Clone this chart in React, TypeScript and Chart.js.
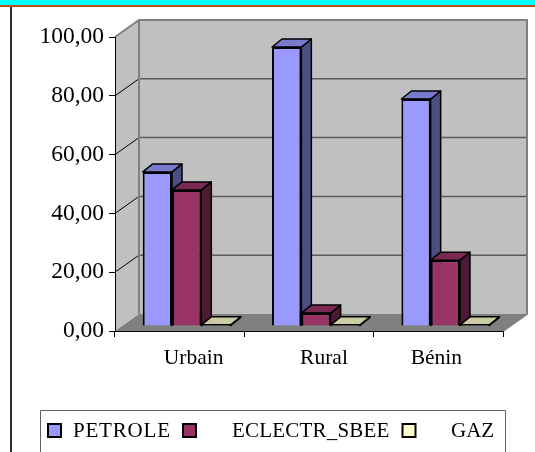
import React, { useEffect, useRef } from "react";
import { Chart, registerables } from "chart.js";

Chart.register(...registerables);

const categories = ["Urbain", "Rural", "Bénin"];
const petrole = [52.4, 94.9, 77.2];
const electr = [46.3, 4.4, 22.4];
const gaz = [0.4, 0.4, 0.4];
const seriesNames = ["PETROLE", "ECLECTR_SBEE", "GAZ"];
const frontColors = ["#9999FF", "#993366", "#FFFFCC"];
const topColors = ["#7A7ACC", "#7A2952", "#CCCCA3"];
const sideColors = ["#4D4D80", "#4D1A33", "#80806A"];
const labelOffsets = [14, 15, -2];
const legendSwatchX = [48, 183, 402.5];
const legendTextX = [73, 232, 451];
const legendSpacing = ["0.8px", "0.2px", "0px"];

const FONT = '"Liberation Serif", "Times New Roman", serif';
const WALL = { dx: 24, dy: -17 };
const BAR = { x: 7, y: -5, dx: 10, dy: -8 };

function poly(ctx: CanvasRenderingContext2D, pts: number[][], fill: string | null, stroke: string | null, lw = 1) {
  ctx.beginPath();
  pts.forEach((p, i) => (i ? ctx.lineTo(p[0], p[1]) : ctx.moveTo(p[0], p[1])));
  ctx.closePath();
  if (fill) {
    ctx.fillStyle = fill;
    ctx.fill();
  }
  if (stroke) {
    ctx.strokeStyle = stroke;
    ctx.lineWidth = lw;
    ctx.stroke();
  }
}

const scenePlugin = {
  id: "scene",
  beforeDraw(chart: any) {
    const ctx = chart.ctx as CanvasRenderingContext2D;
    ctx.save();
    ctx.fillStyle = "#FFFFFF";
    ctx.fillRect(0, 0, 535, 452);
    ctx.fillStyle = "#00FFFF";
    ctx.fillRect(0, 0, 535, 5);
    ctx.fillStyle = "#C04A14";
    ctx.fillRect(0, 5, 535, 2);
    ctx.fillStyle = "#303030";
    ctx.fillRect(10, 7, 2, 445);

    const { left, right, top, bottom } = chart.chartArea;
    const { dx, dy } = WALL;
    poly(ctx, [[left + dx, top + dy], [right + dx, top + dy], [right + dx, bottom + dy], [left + dx, bottom + dy]], "#C0C0C0", null);
    poly(ctx, [[left, top], [left + dx, top + dy], [left + dx, bottom + dy], [left, bottom]], "#C0C0C0", null);
    poly(ctx, [[left, bottom], [left + dx, bottom + dy], [right + dx, bottom + dy], [right, bottom]], "#808080", null);

    const y = chart.scales.y;
    y.ticks.forEach((t: any) => {
      const py = y.getPixelForValue(t.value);
      if (t.value > 0 && t.value < 100) {
        ctx.strokeStyle = "#000000";
        ctx.lineWidth = 1;
        ctx.beginPath();
        ctx.moveTo(left, py);
        ctx.lineTo(left + dx, py + dy);
        ctx.stroke();
        ctx.strokeStyle = "#5A5A5A";
        ctx.lineWidth = 1.5;
        ctx.beginPath();
        ctx.moveTo(left + dx, py + dy);
        ctx.lineTo(right + dx, py + dy);
        ctx.stroke();
      }
    });
    ctx.strokeStyle = "#808080";
    ctx.lineWidth = 2;
    ctx.beginPath();
    ctx.moveTo(left, top);
    ctx.lineTo(left + dx, top + dy);
    ctx.lineTo(right + dx, top + dy);
    ctx.lineTo(right + dx, bottom + dy);
    ctx.lineTo(right, bottom);
    ctx.moveTo(left + dx, top + dy);
    ctx.lineTo(left + dx, bottom + dy);
    ctx.stroke();
    ctx.restore();
  },
  beforeDatasetsDraw(chart: any) {
    const ctx = chart.ctx as CanvasRenderingContext2D;
    ctx.save();
    ctx.translate(BAR.x, BAR.y);
    ctx.lineJoin = "round";
    const { dx, dy } = BAR;
    chart.data.datasets.forEach((_: any, di: number) => {
      chart.getDatasetMeta(di).data.forEach((bar: any) => {
        const p = bar.getProps(["x", "y", "base", "width"], true);
        const l = p.x - p.width / 2;
        const r = p.x + p.width / 2;
        poly(ctx, [[r, p.y], [r + dx, p.y + dy], [r + dx, p.base + dy], [r, p.base]], sideColors[di], "#000000", 1.5);
        poly(ctx, [[l, p.y], [l + dx, p.y + dy], [r + dx, p.y + dy], [r, p.y]], topColors[di], "#000000", 1.5);
        bar.draw(ctx);
      });
    });
    ctx.restore();
    return false;
  },
  afterDraw(chart: any) {
    const ctx = chart.ctx as any;
    ctx.save();
    ctx.fillStyle = "#000000";
    ctx.font = `21.5px ${FONT}`;
    ctx.textBaseline = "alphabetic";
    ctx.textAlign = "center";
    const xs = chart.scales.x;
    categories.forEach((c, i) => ctx.fillText(c, xs.getPixelForValue(i) + labelOffsets[i], 364));

    ctx.strokeStyle = "#606060";
    ctx.lineWidth = 1;
    ctx.beginPath();
    ctx.moveTo(40.5, 452);
    ctx.lineTo(40.5, 410.5);
    ctx.lineTo(505.5, 410.5);
    ctx.lineTo(505.5, 452);
    ctx.stroke();

    ctx.textAlign = "left";
    ctx.font = `21px ${FONT}`;
    seriesNames.forEach((name, i) => {
      ctx.fillStyle = frontColors[i];
      ctx.strokeStyle = "#000000";
      ctx.lineWidth = 2;
      ctx.fillRect(legendSwatchX[i], 424, 13, 13);
      ctx.strokeRect(legendSwatchX[i], 424, 13, 13);
      ctx.fillStyle = "#000000";
      ctx.letterSpacing = legendSpacing[i];
      ctx.fillText(name, legendTextX[i], 437);
    });
    ctx.restore();
  },
};

export default function App() {
  const ref = useRef<HTMLCanvasElement>(null);
  useEffect(() => {
    const ds = (label: string, data: number[], i: number) => ({
      label,
      data,
      backgroundColor: frontColors[i],
      borderColor: "#000000",
      borderWidth: 2,
      categoryPercentage: 0.68,
      barPercentage: 1,
      clip: false,
    });
    const chart = new Chart(ref.current!, {
      type: "bar",
      data: {
        labels: categories,
        datasets: [ds(seriesNames[0], petrole, 0), ds(seriesNames[1], electr, 1), ds(seriesNames[2], gaz, 2)],
      },
      options: {
        responsive: false,
        animation: false,
        layout: { padding: { left: 0, top: 37, right: 32, bottom: 115 } },
        plugins: { legend: { display: false }, tooltip: { enabled: false }, title: { display: false } },
        scales: {
          x: {
            grid: { drawOnChartArea: false, tickLength: 6, color: "#000000", tickWidth: 1 },
            border: { display: true, color: "#000000", width: 1 },
            ticks: { display: false },
            afterFit: (s: any) => {
              s.height = 6;
            },
          },
          y: {
            min: 0,
            max: 100,
            grid: { drawOnChartArea: false, tickLength: 6, color: "#000000", tickWidth: 1 },
            border: { display: true, color: "#000000", width: 1 },
            ticks: {
              stepSize: 20,
              padding: 5,
              color: "#000000",
              font: { family: FONT, size: 23.5 },
              callback: (v: any) => Number(v).toFixed(2).replace(".", ","),
            },
            afterFit: (s: any) => {
              s.width = 115;
            },
          },
        },
      },
      plugins: [scenePlugin],
    } as any);
    return () => chart.destroy();
  }, []);
  return (
    <canvas
      ref={ref}
      width={535}
      height={452}
      style={{ position: "absolute", left: 0, top: 0, display: "block", width: 535, height: 452 }}
    />
  );
}
